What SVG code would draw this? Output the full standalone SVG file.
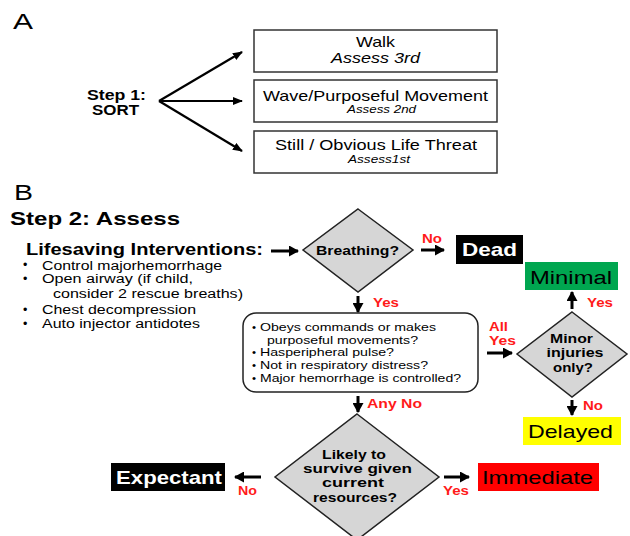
<svg xmlns="http://www.w3.org/2000/svg" width="630" height="536" viewBox="0 0 630 536">
<style>
text{font-family:"Liberation Sans",Arial,sans-serif;fill:#000}
.b{font-weight:bold}
.lbl{font-weight:bold;fill:#ff1a1a;font-size:13px}
.box{fill:#fff;stroke:#333;stroke-width:1.5}
.dia{fill:#d6d6d6;stroke:#222;stroke-width:1.5}
.thin{stroke:#000;stroke-width:2.2;fill:none;marker-end:url(#ah)}
.thick{stroke:#000;stroke-width:3;fill:none;marker-end:url(#ah2)}
.q{font-weight:bold;font-size:13px;text-anchor:middle}
.li{font-size:12.5px}
.sm{font-size:11.5px}
.c{text-anchor:middle}
</style>
<defs>
<marker id="ah" markerWidth="10" markerHeight="8" refX="9" refY="4" orient="auto" markerUnits="userSpaceOnUse"><path d="M0,0 L10,4 L0,8 Z" fill="#000"/></marker>
<marker id="ah2" markerWidth="10" markerHeight="11" refX="9" refY="5.5" orient="auto" markerUnits="userSpaceOnUse"><path d="M0,0 L10,5.5 L0,11 Z" fill="#000"/></marker>
</defs>
<rect width="630" height="536" fill="#fff"/>

<text x="13" y="29" font-size="22" textLength="20" lengthAdjust="spacingAndGlyphs">A</text>
<g id="step1">
<text class="b c" x="116.5" y="100" font-size="14" textLength="59" lengthAdjust="spacingAndGlyphs">Step 1:</text>
<text class="b c" x="115.5" y="115" font-size="14" textLength="47" lengthAdjust="spacingAndGlyphs">SORT</text>
</g>
<g id="walk">
<rect class="box" x="254" y="30" width="243" height="42"/>
<text class="c" x="375.5" y="47" font-size="15" textLength="39" lengthAdjust="spacingAndGlyphs">Walk</text>
<text class="c" x="375.5" y="63" font-size="14" font-style="italic" textLength="89" lengthAdjust="spacingAndGlyphs">Assess 3rd</text>
</g>
<g id="wave">
<rect class="box" x="254" y="80" width="243" height="42"/>
<text class="c" x="375.5" y="101" font-size="15" textLength="225" lengthAdjust="spacingAndGlyphs">Wave/Purposeful Movement</text>
<text class="c" x="381.5" y="113" font-size="10" font-style="italic" textLength="69" lengthAdjust="spacingAndGlyphs">Assess 2nd</text>
</g>
<g id="still">
<rect class="box" x="254" y="131" width="243" height="42"/>
<text class="c" x="376" y="150" font-size="15" textLength="202" lengthAdjust="spacingAndGlyphs">Still / Obvious Life Threat</text>
<text class="c" x="379" y="163" font-size="10" font-style="italic" textLength="62" lengthAdjust="spacingAndGlyphs">Assess1st</text>
</g>

<text x="14" y="200" font-size="22" textLength="19" lengthAdjust="spacingAndGlyphs">B</text>
<text class="b" x="10" y="225" font-size="19" textLength="170" lengthAdjust="spacingAndGlyphs">Step 2: Assess</text>
<g id="interventions">
<text class="b" x="26" y="255" font-size="16" textLength="237" lengthAdjust="spacingAndGlyphs">Lifesaving Interventions:</text>
<text class="li" x="23" y="269">•</text><text class="li" x="42" y="269.5" textLength="180" lengthAdjust="spacingAndGlyphs">Control majorhemorrhage</text>
<text class="li" x="23" y="283">•</text><text class="li" x="42" y="283" textLength="151" lengthAdjust="spacingAndGlyphs">Open airway (if child,</text>
<text class="li" x="53" y="298" textLength="190" lengthAdjust="spacingAndGlyphs">consider 2 rescue breaths)</text>
<text class="li" x="23" y="314">•</text><text class="li" x="42" y="314" textLength="154" lengthAdjust="spacingAndGlyphs">Chest decompression</text>
<text class="li" x="23" y="328">•</text><text class="li" x="42" y="328" textLength="158" lengthAdjust="spacingAndGlyphs">Auto injector antidotes</text>
</g>
<g id="breathing">
<polygon class="dia" points="358,209 413,250 358,292 303,250"/>
<text class="q" x="357.5" y="255" textLength="83" lengthAdjust="spacingAndGlyphs">Breathing?</text>
</g>
<g id="dead">
<rect x="456" y="235" width="67" height="29" fill="#000"/>
<text class="b c" x="489.5" y="256" font-size="19" style="fill:#fff" textLength="55" lengthAdjust="spacingAndGlyphs">Dead</text>
</g>
<g id="minimal">
<rect x="525" y="262" width="93" height="28" fill="#00a650"/>
<text class="c" x="571" y="284" font-size="19" textLength="82" lengthAdjust="spacingAndGlyphs">Minimal</text>
</g>
<g id="checks">
<rect x="243" y="313" width="235" height="79" rx="13" fill="#fff" stroke="#222" stroke-width="1.5"/>
<text class="sm" x="252" y="330.5">•</text><text class="sm" x="260" y="330.5" textLength="176" lengthAdjust="spacingAndGlyphs">Obeys commands or makes</text>
<text class="sm" x="267" y="343.5" textLength="151" lengthAdjust="spacingAndGlyphs">purposeful movements?</text>
<text class="sm" x="252" y="356">•</text><text class="sm" x="260" y="356" textLength="134" lengthAdjust="spacingAndGlyphs">Hasperipheral pulse?</text>
<text class="sm" x="252" y="369">•</text><text class="sm" x="260" y="369" textLength="168" lengthAdjust="spacingAndGlyphs">Not in respiratory distress?</text>
<text class="sm" x="252" y="382">•</text><text class="sm" x="260" y="382" textLength="201" lengthAdjust="spacingAndGlyphs">Major hemorrhage is controlled?</text>
</g>
<g id="minor">
<polygon class="dia" points="572,312 627,354 572,397 517,354"/>
<text class="q" x="571.5" y="343" font-size="14" textLength="43" lengthAdjust="spacingAndGlyphs">Minor</text>
<text class="q" x="575" y="357" font-size="14" textLength="57" lengthAdjust="spacingAndGlyphs">injuries</text>
<text class="q" x="573" y="372" font-size="14" textLength="40" lengthAdjust="spacingAndGlyphs">only?</text>
</g>
<g id="delayed">
<rect x="523" y="417" width="98" height="28" fill="#ffff00"/>
<text class="c" x="570.5" y="438" font-size="19" textLength="85" lengthAdjust="spacingAndGlyphs">Delayed</text>
</g>
<g id="likely">
<polygon class="dia" points="357,414 439,477 357,540 275,477"/>
<text class="q" x="354" y="459" textLength="64" lengthAdjust="spacingAndGlyphs">Likely to</text>
<text class="q" x="357.5" y="473" textLength="109" lengthAdjust="spacingAndGlyphs">survive given</text>
<text class="q" x="353" y="487" textLength="62" lengthAdjust="spacingAndGlyphs">current</text>
<text class="q" x="355" y="502" textLength="84" lengthAdjust="spacingAndGlyphs">resources?</text>
</g>
<g id="expectant">
<rect x="111" y="463" width="114" height="28" fill="#000"/>
<text class="b c" x="169" y="484" font-size="19" style="fill:#fff" textLength="106" lengthAdjust="spacingAndGlyphs">Expectant</text>
</g>
<g id="immediate">
<rect x="478" y="463" width="121" height="28" fill="#ff0000"/>
<text class="c" x="537.5" y="484" font-size="19" textLength="111" lengthAdjust="spacingAndGlyphs">Immediate</text>
</g>

<g id="connectors">
<line class="thin" x1="159" y1="101" x2="242" y2="52"/>
<line class="thin" x1="159" y1="101" x2="242" y2="101"/>
<line class="thin" x1="159" y1="101" x2="242" y2="151"/>
<line class="thick" x1="271" y1="251" x2="298" y2="251"/>
<line class="thick" x1="421" y1="250" x2="444" y2="250"/>
<line class="thick" x1="358" y1="296" x2="358" y2="312"/>
<line class="thick" x1="572" y1="309" x2="572" y2="292"/>
<line class="thick" x1="487" y1="353" x2="512" y2="353"/>
<line class="thick" x1="572" y1="400" x2="572" y2="415"/>
<line class="thick" x1="358" y1="396" x2="358" y2="412"/>
<line class="thick" x1="261" y1="477" x2="235" y2="477"/>
<line class="thick" x1="444" y1="477" x2="469" y2="477"/>
<text class="lbl" x="422" y="243" textLength="20" lengthAdjust="spacingAndGlyphs">No</text>
<text class="lbl" x="373" y="307" textLength="26" lengthAdjust="spacingAndGlyphs">Yes</text>
<text class="lbl" x="587" y="307" textLength="26" lengthAdjust="spacingAndGlyphs">Yes</text>
<text class="lbl" x="489" y="331" textLength="19" lengthAdjust="spacingAndGlyphs">All</text>
<text class="lbl" x="489" y="345" textLength="27" lengthAdjust="spacingAndGlyphs">Yes</text>
<text class="lbl" x="583" y="410" textLength="20" lengthAdjust="spacingAndGlyphs">No</text>
<text class="lbl" x="367" y="408" textLength="55" lengthAdjust="spacingAndGlyphs">Any No</text>
<text class="lbl" x="238" y="495" textLength="19" lengthAdjust="spacingAndGlyphs">No</text>
<text class="lbl" x="443" y="495" textLength="26" lengthAdjust="spacingAndGlyphs">Yes</text>
</g>
</svg>
